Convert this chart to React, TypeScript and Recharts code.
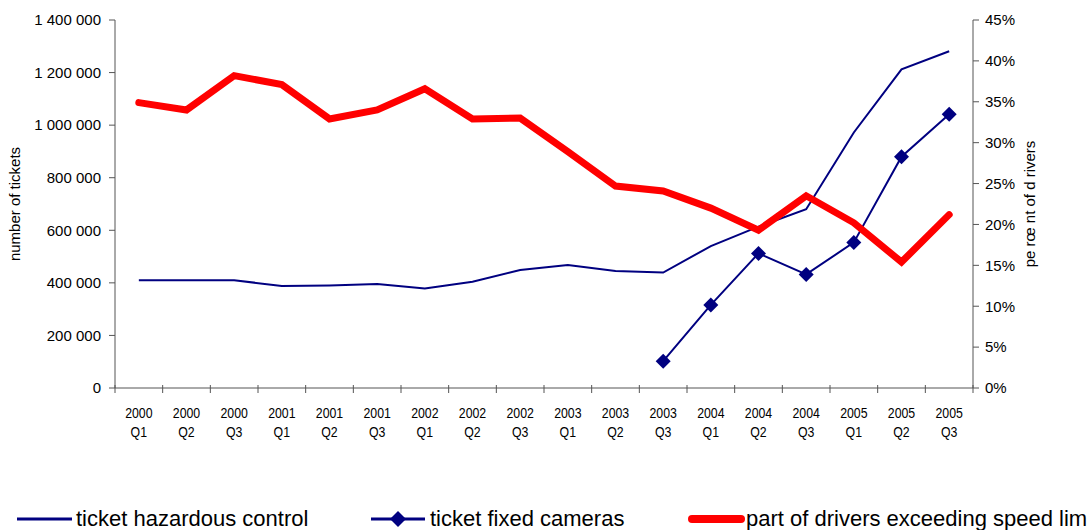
import { Legend, Line, LineChart, XAxis, YAxis } from 'recharts';

const quarters = [
  '2000 Q1', '2000 Q2', '2000 Q3', '2001 Q1', '2001 Q2', '2001 Q3',
  '2002 Q1', '2002 Q2', '2002 Q3', '2003 Q1', '2003 Q2', '2003 Q3',
  '2004 Q1', '2004 Q2', '2004 Q3', '2005 Q1', '2005 Q2', '2005 Q3',
];

const hazardousTickets = [
  410000, 410000, 410000, 388000, 390000, 396000,
  379000, 404000, 449000, 468000, 445000, 439000,
  540000, 614000, 680000, 972000, 1212000, 1281000,
];

const cameraTickets = [
  null, null, null, null, null, null,
  null, null, null, null, null, 102000,
  316000, 512000, 432000, 554000, 880000, 1041000,
];

const speedingShare = [
  0.349, 0.340, 0.382, 0.371, 0.329, 0.340,
  0.366, 0.329, 0.330, 0.289, 0.247, 0.241,
  0.220, 0.193, 0.235, 0.202, 0.154, 0.212,
];

const ticketTicks = [0, 200000, 400000, 600000, 800000, 1000000, 1200000, 1400000];
const shareTicks = [0, 0.05, 0.1, 0.15, 0.2, 0.25, 0.3, 0.35, 0.4, 0.45];

const seriesNames = {
  hazardous: 'ticket hazardous control',
  cameras: 'ticket fixed cameras',
  share: 'part of drivers exceeding speed limit',
};

const rows = quarters.map((q, i) => ({
  quarter: q,
  hazardous: hazardousTickets[i],
  cameras: cameraTickets[i],
  share: speedingShare[i],
}));

const W = 1088;
const H = 530;
const AXIS_W = 115;
const PLOT_W = W - AXIS_W * 2;
const BAND = PLOT_W / quarters.length;

const NAVY = '#000080';
const RED = '#ff0000';
const AXIS = '#555555';
const FONT = '"Liberation Sans", Arial, sans-serif';

const fmtTickets = (v: number) => String(v).replace(/\B(?=(\d{3})+(?!\d))/g, ' ');
const fmtShare = (v: number) => `${Math.round(v * 100)}%`;

const Diamond = (props: any) => {
  const { cx, cy } = props;
  if (cx == null || cy == null || props.value == null) return null;
  const r = 7.5;
  return (
    <polygon
      points={`${cx},${cy - r} ${cx + r},${cy} ${cx},${cy + r} ${cx - r},${cy}`}
      fill={NAVY}
    />
  );
};

// year on top, quarter below, tick marks sit between categories
const QuarterTick = (props: any) => {
  const { x, y, payload, index } = props;
  const [year, q] = String(payload.value).split(' ');
  const left = x - BAND / 2;
  const right = x + BAND / 2;
  return (
    <g>
      <line x1={left} x2={left} y1={y - 3} y2={y + 5} stroke={AXIS} />
      {index === quarters.length - 1 && (
        <line x1={right} x2={right} y1={y - 3} y2={y + 5} stroke={AXIS} />
      )}
      <g transform={`translate(${x},0) scale(0.85,1)`}>
        <text x={0} y={y + 30} textAnchor="middle" fontSize={14.5} fill="#000" fontFamily={FONT}>
          {year}
        </text>
        <text x={0} y={y + 49} textAnchor="middle" fontSize={14.5} fill="#000" fontFamily={FONT}>
          {q}
        </text>
      </g>
    </g>
  );
};

const legendSpots: Record<string, { left: number; text: number }> = {
  hazardous: { left: 17, text: 76 },
  cameras: { left: 371, text: 430 },
  share: { left: 688, text: 746 },
};

const LegendRow = (props: any) => {
  const items = props.payload || [];
  return (
    <div style={{ position: 'relative', width: W, height: 40 }}>
      {items.map((it: any) => {
        const key = it.dataKey as string;
        const spot = legendSpots[key];
        if (!spot) return null;
        return (
          <div key={key}>
            <svg
              width={70}
              height={40}
              style={{ position: 'absolute', left: spot.left - 6, top: 0 }}
            >
              {key === 'hazardous' && (
                <line x1={6} x2={61} y1={29} y2={29} stroke={NAVY} strokeWidth={3} />
              )}
              {key === 'cameras' && (
                <g>
                  <line x1={6} x2={60} y1={29} y2={29} stroke={NAVY} strokeWidth={3} />
                  <polygon points="33,21 41,29 33,37 25,29" fill={NAVY} />
                </g>
              )}
              {key === 'share' && (
                <line
                  x1={10}
                  x2={59}
                  y1={29}
                  y2={29}
                  stroke={RED}
                  strokeWidth={8}
                  strokeLinecap="round"
                />
              )}
            </svg>
            <span
              style={{
                position: 'absolute',
                left: spot.text,
                top: 18,
                fontFamily: FONT,
                fontSize: 22,
                lineHeight: '22px',
                whiteSpace: 'nowrap',
                color: '#000',
              }}
            >
              {it.value}
            </span>
          </div>
        );
      })}
    </div>
  );
};

export default function App() {
  return (
    <div
      style={{
        position: 'fixed',
        left: 0,
        top: 0,
        width: W,
        height: H,
        overflow: 'hidden',
        background: '#fff',
      }}
    >
      <LineChart width={W} height={H} data={rows} margin={{ top: 20, right: 0, bottom: 0, left: 0 }}>
        <XAxis
          dataKey="quarter"
          scale="band"
          height={102}
          stroke={AXIS}
          tickLine={false}
          tickSize={0}
          tickMargin={0}
          interval={0}
          tick={<QuarterTick />}
        />
        <YAxis
          yAxisId="tickets"
          width={AXIS_W}
          domain={[0, 1400000]}
          ticks={ticketTicks}
          tickFormatter={fmtTickets}
          stroke={AXIS}
          tickSize={6}
          tickMargin={8}
          tick={{ fill: '#000', fontSize: 15, fontFamily: FONT }}
          label={{
            value: 'number of tickets',
            angle: -90,
            position: 'insideLeft',
            offset: 0,
            dx: 15,
            style: { fill: '#000', fontSize: 15, fontFamily: FONT, textAnchor: 'middle' },
          }}
        />
        <YAxis
          yAxisId="share"
          orientation="right"
          width={AXIS_W}
          domain={[0, 0.45]}
          ticks={shareTicks}
          tickFormatter={fmtShare}
          stroke={AXIS}
          tickSize={6}
          tickMargin={6}
          tick={{ fill: '#000', fontSize: 15, fontFamily: FONT, textAnchor: 'start' }}
          label={{
            value: 'pe rœ nt of d rivers',
            angle: -90,
            position: 'insideRight',
            offset: 0,
            dx: -58,
            style: { fill: '#000', fontSize: 15, fontFamily: FONT, textAnchor: 'middle' },
          }}
        />
        <Legend verticalAlign="bottom" align="left" height={40} content={<LegendRow />} />
        <Line
          yAxisId="tickets"
          dataKey="hazardous"
          name={seriesNames.hazardous}
          stroke={NAVY}
          strokeWidth={2}
          dot={false}
          isAnimationActive={false}
        />
        <Line
          yAxisId="tickets"
          dataKey="cameras"
          name={seriesNames.cameras}
          stroke={NAVY}
          strokeWidth={2}
          dot={<Diamond />}
          isAnimationActive={false}
        />
        <Line
          yAxisId="share"
          dataKey="share"
          name={seriesNames.share}
          stroke={RED}
          strokeWidth={7}
          strokeLinecap="round"
          dot={false}
          isAnimationActive={false}
        />
      </LineChart>
    </div>
  );
}
